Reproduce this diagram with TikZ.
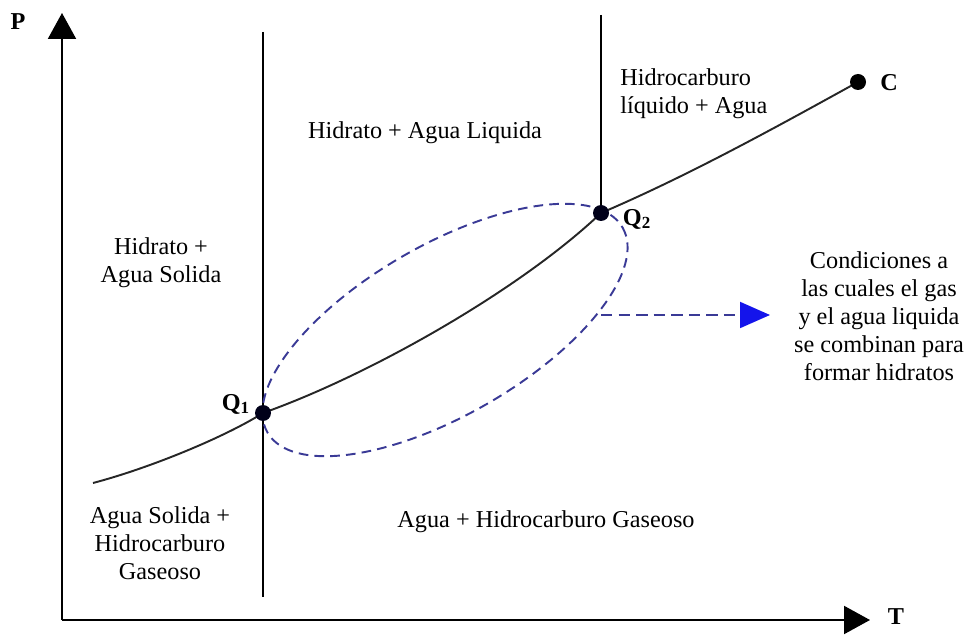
\documentclass[tikz,border=0pt]{standalone}
\usepackage{fontspec}
\setmainfont{Liberation Serif}
\usetikzlibrary{arrows.meta}

\definecolor{dashblue}{RGB}{58,58,150}
\definecolor{tipblue}{RGB}{20,20,235}

\begin{document}
\begin{tikzpicture}[x=0.02cm,y=-0.02cm,
  txt/.style={font=\fontsize{13.8}{15.9}\selectfont, align=center, inner sep=0pt},
  lbl/.style={font=\fontsize{13.8}{15.9}\selectfont\bfseries, inner sep=0pt},
  axis/.style={line width=1.2pt, -{Triangle[length=0.52cm,width=0.56cm]}},
  phase/.style={line width=1.1pt},
  curve/.style={line width=1.1pt, black!85},
  region/.style={dashblue, line width=1.1pt, dash pattern=on 5.5pt off 3.5pt},
  dot/.style={fill=black!90!blue}]
\useasboundingbox (0,0) rectangle (970,641);

\coordinate (o) at (62,620);
\coordinate (ptop) at (62,13);
\coordinate (tend) at (870,620);
\coordinate (q1) at (263,413);
\coordinate (q2) at (601,213);
\coordinate (c) at (858,82);
\coordinate (v1top) at (263,32);
\coordinate (v1bot) at (263,597);
\coordinate (v2top) at (601,15);
\coordinate (cstart) at (93,483);
\coordinate (rc) at (445,330);
\coordinate (astart) at (601,315);
\coordinate (aend) at (770,315);

% axes
\draw[axis] (o) -- (ptop);
\draw[axis] (o) -- (tend);
\node[lbl] (p) at (18,22) {P};
\node[lbl] (t) at (896,617) {T};

% phase boundaries
\draw[phase] (v1top) -- (v1bot);
\draw[phase] (v2top) -- (q2);

% hydrate curve
\draw[curve] (cstart) .. controls (150,468) and (225,437) .. (q1)
  .. controls (370,375) and (520,290) .. (q2)
  .. controls (690,175) and (780,125) .. (c);

% region of hydrate formation
\draw[region, shift={(rc)}, rotate=30] (0,0) ellipse [x radius=205, y radius=85];
\draw[region, dash pattern=on 6.5pt off 3.5pt, -{Triangle[length=0.6cm,width=0.52cm,tipblue]}] (astart) -- (aend);

% points
\fill[dot] (q1) circle[radius=0.16cm];
\fill[dot] (q2) circle[radius=0.16cm];
\fill[black] (c) circle[radius=0.16cm];
\node[lbl] (q1l) at (236,404) {Q\textsubscript{1}};
\node[lbl] (q2l) at (637,219) {Q\textsubscript{2}};
\node[lbl] (cl) at (889,83) {C};

% regions
\node[txt] (hal) at (425,133) {Hidrato + Agua Liquida};
\node[txt, align=left, anchor=west] (hla) at (620,94) {Hidrocarburo\\líquido + Agua};
\node[txt] (has) at (161,263) {Hidrato +\\Agua Solida};
\node[txt] (cond) at (879,316) {Condiciones a\\las cuales el gas\\y el agua liquida\\se combinan para\\formar hidratos};
\node[txt] (ash) at (160,543) {Agua Solida +\\Hidrocarburo\\Gaseoso};
\node[txt] (ahg) at (546,522) {Agua + Hidrocarburo Gaseoso};
\end{tikzpicture}
\end{document}
